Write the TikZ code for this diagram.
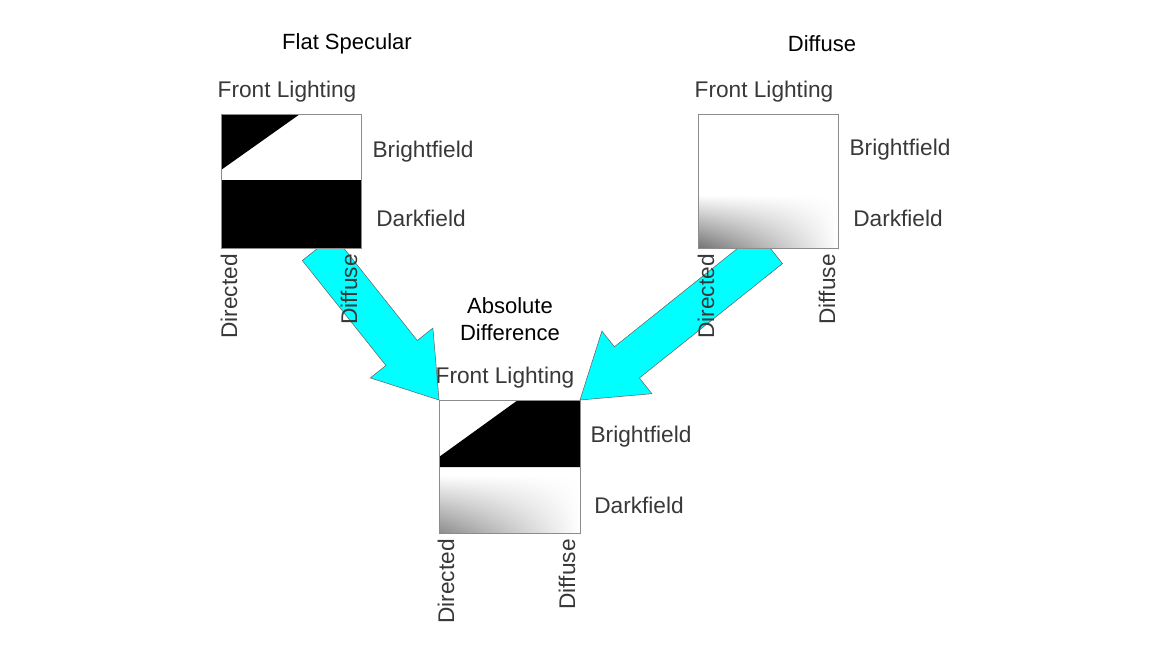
\documentclass[tikz,border=0pt]{standalone}
\usepackage{fontspec}
\setmainfont{Liberation Sans}
\usetikzlibrary{shadings}
\definecolor{aqua}{RGB}{0,255,255}
\begin{document}
\begin{tikzpicture}[x=0.75pt,y=-0.75pt,
  lbl/.style={font=\fontsize{17}{19}\selectfont,text=black!78,inner sep=0pt},
  ttl/.style={font=\fontsize{16.5}{20}\selectfont,text=black,inner sep=0pt,align=center},
  vlbl/.style={lbl,rotate=90},
  arr/.style={fill=aqua,draw=black!60,line width=0.4pt},
  panel/.style={draw=black!45,line width=0.5pt}]
\useasboundingbox (0,0) rectangle (1170,658);
% arrows
\draw[arr] (333.7,235.5) -- (417.3,340.5) -- (432.9,328.1) -- (439,400) -- (370.3,377.9) -- (385.9,365.5) -- (302.3,260.5) -- cycle;
\draw[arr] (782.5,263.6) -- (639.4,378) -- (651.9,393.7) -- (580,400) -- (601.9,331.1) -- (614.4,346.8) -- (757.5,232.4) -- cycle;
% left panel
\fill[white] (221,114) rectangle (361,248);
\fill[black] (221,114) -- (300,114) -- (221,170) -- cycle;
\fill[black] (221,180) rectangle (361,248);
\draw[panel] (221,114) rectangle (361,248);
% right panel
\fill[white] (698,114) rectangle (838,248);
\shade[lower left=black!55, lower right=white, upper left=white, upper right=white] (698,195) rectangle (838,248);
\draw[panel] (698,114) rectangle (838,248);
% bottom panel
\fill[white] (439,400) rectangle (580,533);
\fill[black] (518,400) -- (580,400) -- (580,467) -- (439,467) -- (439,457) -- cycle;
\shade[lower left=black!45, lower right=white, upper left=white, upper right=white] (439,475) rectangle (580,533);
\draw[panel] (439,400) rectangle (580,533);
% titles
\node[ttl] (t1) at (347,44) {Flat Specular};
\node[ttl] (t2) at (822,44) {Diffuse};
\node[ttl] (t3) at (510,319) {Absolute\\Difference};
% labels
\node[lbl] (f1) at (287,92) {Front Lighting};
\node[lbl] (f2) at (764,92) {Front Lighting};
\node[lbl] (f3) at (505,378) {Front Lighting};
\node[lbl] (b1) at (423,152) {Brightfield};
\node[lbl] (d1) at (421,218) {Darkfield};
\node[lbl] (b2) at (900,150) {Brightfield};
\node[lbl] (d2) at (898,218) {Darkfield};
\node[lbl] (b3) at (641,437) {Brightfield};
\node[lbl] (d3) at (639,505) {Darkfield};
\node[vlbl,anchor=east] (v1) at (229,254) {Directed};
\node[vlbl,anchor=east] (v2) at (349,254) {Diffuse};
\node[vlbl,anchor=east] (v3) at (706,254) {Directed};
\node[vlbl,anchor=east] (v4) at (827,254) {Diffuse};
\node[vlbl,anchor=east] (v5) at (446,539) {Directed};
\node[vlbl,anchor=east] (v6) at (567,539) {Diffuse};
\end{tikzpicture}
\end{document}
